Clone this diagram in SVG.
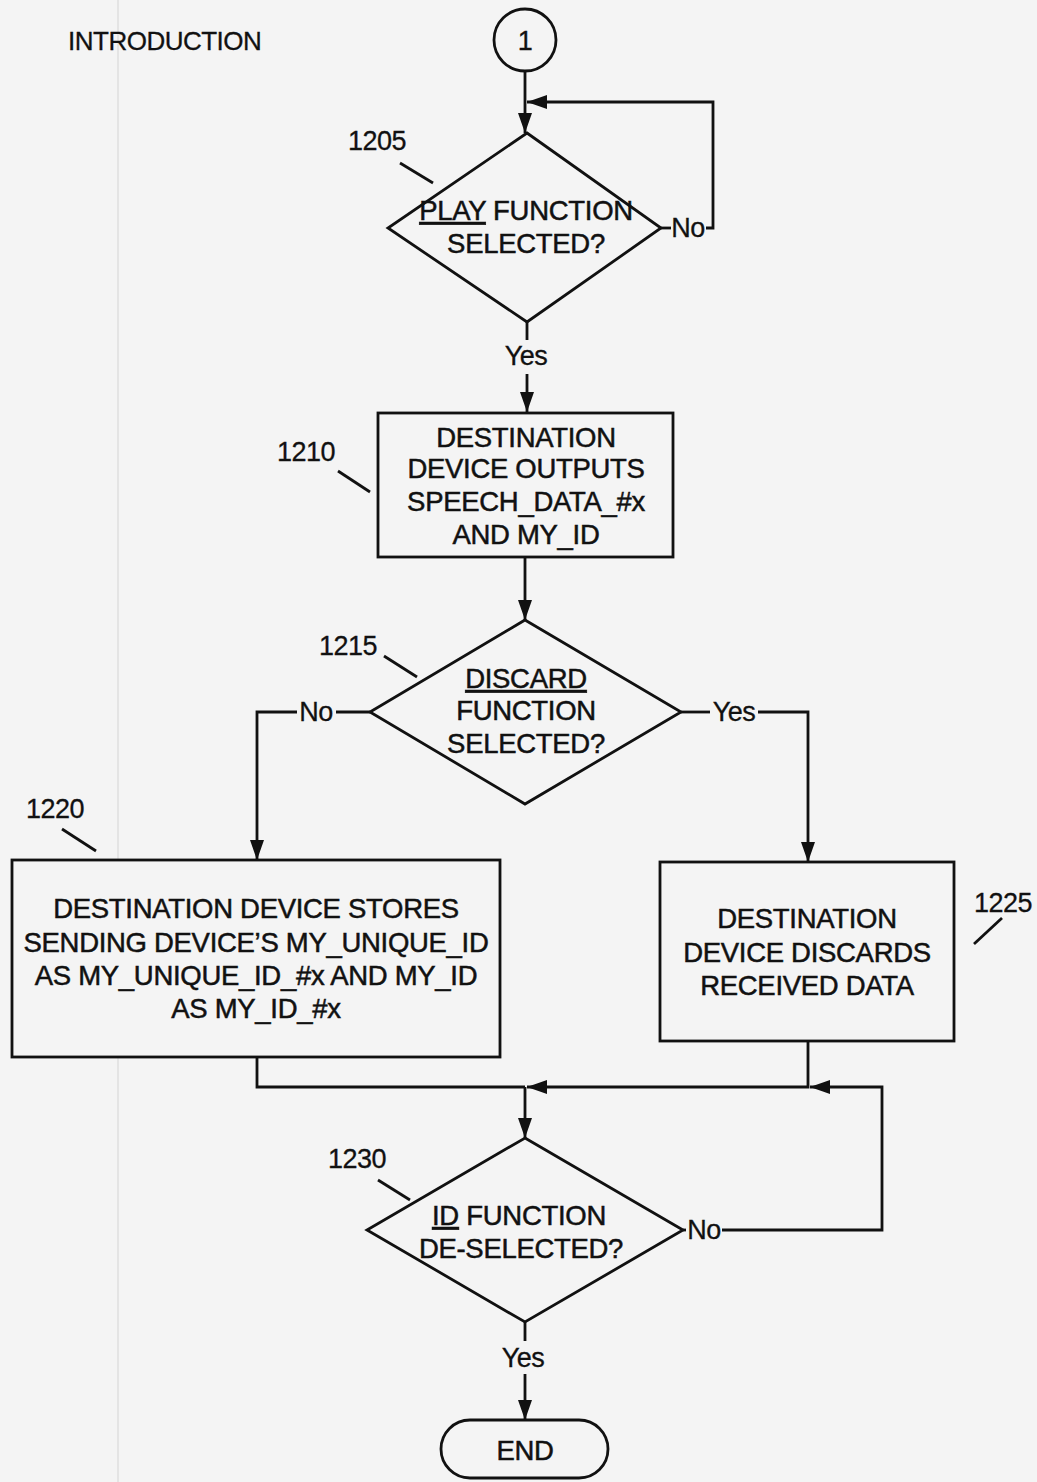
<svg xmlns="http://www.w3.org/2000/svg" width="1037" height="1482" viewBox="0 0 1037 1482">
<style>
.s{fill:none;stroke:#111;stroke-width:2.8}
.n{fill:#f4f4f4;stroke:#111;stroke-width:2.8}
.t{font-family:"Liberation Sans",Arial,sans-serif;font-size:27.5px;fill:#111;stroke:#111;stroke-width:0.5;text-anchor:middle;letter-spacing:-0.3px}
.l{font-family:"Liberation Sans",Arial,sans-serif;font-size:27px;fill:#111;stroke:#111;stroke-width:0.3;text-anchor:middle;letter-spacing:-0.5px}
.u{text-decoration:underline}
</style>
<defs>
<marker id="ah" markerUnits="userSpaceOnUse" markerWidth="22" markerHeight="14" refX="20" refY="7" orient="auto">
<path d="M0,0 L20,7 L0,14 z" fill="#111"/>
</marker>
</defs>
<rect width="1037" height="1482" fill="#f4f4f4"/>
<line x1="118" y1="0" x2="118" y2="1482" stroke="#e4e4e4" stroke-width="2"/>
<text class="l" x="68" y="50" style="text-anchor:start;font-size:26px">INTRODUCTION</text>

<g id="connectors">
<path class="s" d="M525,71 V133" marker-end="url(#ah)"/>
<path class="s" d="M661,228 H671"/>
<path class="s" d="M706,228 H713 V102 H527" marker-end="url(#ah)"/>
<text class="l" x="688" y="237">No</text>
<path class="s" d="M527,322 V340"/>
<text class="l" x="526" y="365">Yes</text>
<path class="s" d="M527,374 V412" marker-end="url(#ah)"/>
<path class="s" d="M525,557 V620" marker-end="url(#ah)"/>
<path class="s" d="M370,712 H336"/>
<text class="l" x="316" y="721">No</text>
<path class="s" d="M297,712 H257 V860" marker-end="url(#ah)"/>
<path class="s" d="M681,712 H710"/>
<text class="l" x="734" y="721">Yes</text>
<path class="s" d="M758,712 H808 V862" marker-end="url(#ah)"/>
<path class="s" d="M257,1057 V1087 H525"/>
<path class="s" d="M808,1041 V1087 H527" marker-end="url(#ah)"/>
<path class="s" d="M683,1230 H686"/>
<text class="l" x="704" y="1239">No</text>
<path class="s" d="M722,1230 H882 V1087 H810" marker-end="url(#ah)"/>
<path class="s" d="M525,1087 V1138" marker-end="url(#ah)"/>
<path class="s" d="M525,1322 V1341"/>
<text class="l" x="523" y="1367">Yes</text>
<path class="s" d="M525,1374 V1420" marker-end="url(#ah)"/>
</g>

<g id="start">
<circle class="n" cx="525" cy="40" r="31"/>
<text class="l" x="525" y="50">1</text>
</g>

<g id="n1205">
<polygon class="n" points="527,133 661,228 527,322 388,228"/>
<text class="t" x="526" y="220"><tspan class="u">PLAY</tspan> FUNCTION</text>
<text class="t" x="526" y="253">SELECTED?</text>
<text class="l" x="377" y="150">1205</text>
<line class="s" x1="400" y1="163" x2="433" y2="183"/>
</g>

<g id="n1210">
<rect class="n" x="378" y="413" width="295" height="144"/>
<text class="t" x="526" y="447">DESTINATION</text>
<text class="t" x="526" y="478">DEVICE OUTPUTS</text>
<text class="t" x="526" y="511">SPEECH_DATA_#x</text>
<text class="t" x="526" y="544">AND MY_ID</text>
<text class="l" x="306" y="461">1210</text>
<line class="s" x1="338" y1="471" x2="370" y2="492"/>
</g>

<g id="n1215">
<polygon class="n" points="525,620 681,712 525,804 370,712"/>
<text class="t u" x="526" y="688">DISCARD</text>
<text class="t" x="526" y="720">FUNCTION</text>
<text class="t" x="526" y="753">SELECTED?</text>
<text class="l" x="348" y="655">1215</text>
<line class="s" x1="384" y1="656" x2="417" y2="677"/>
</g>

<g id="n1220">
<rect class="n" x="12" y="860" width="488" height="197"/>
<text class="t" x="256" y="918">DESTINATION DEVICE STORES</text>
<text class="t" x="256" y="952">SENDING DEVICE’S MY_UNIQUE_ID</text>
<text class="t" x="256" y="985">AS MY_UNIQUE_ID_#x AND MY_ID</text>
<text class="t" x="256" y="1018">AS MY_ID_#x</text>
<text class="l" x="55" y="818">1220</text>
<line class="s" x1="62" y1="829" x2="96" y2="851"/>
</g>

<g id="n1225">
<rect class="n" x="660" y="862" width="294" height="179"/>
<text class="t" x="807" y="928">DESTINATION</text>
<text class="t" x="807" y="962">DEVICE DISCARDS</text>
<text class="t" x="807" y="995">RECEIVED DATA</text>
<text class="l" x="1003" y="912">1225</text>
<line class="s" x1="1002" y1="918" x2="974" y2="944"/>
</g>

<g id="n1230">
<polygon class="n" points="525,1138 683,1230 525,1322 367,1230"/>
<text class="t" x="519" y="1225"><tspan class="u">ID</tspan> FUNCTION</text>
<text class="t" x="521" y="1258">DE-SELECTED?</text>
<text class="l" x="357" y="1168">1230</text>
<line class="s" x1="378" y1="1180" x2="410" y2="1200"/>
</g>

<g id="end">
<rect class="n" x="441" y="1420" width="167" height="58" rx="29"/>
<text class="t" x="525" y="1460">END</text>
</g>
</svg>
